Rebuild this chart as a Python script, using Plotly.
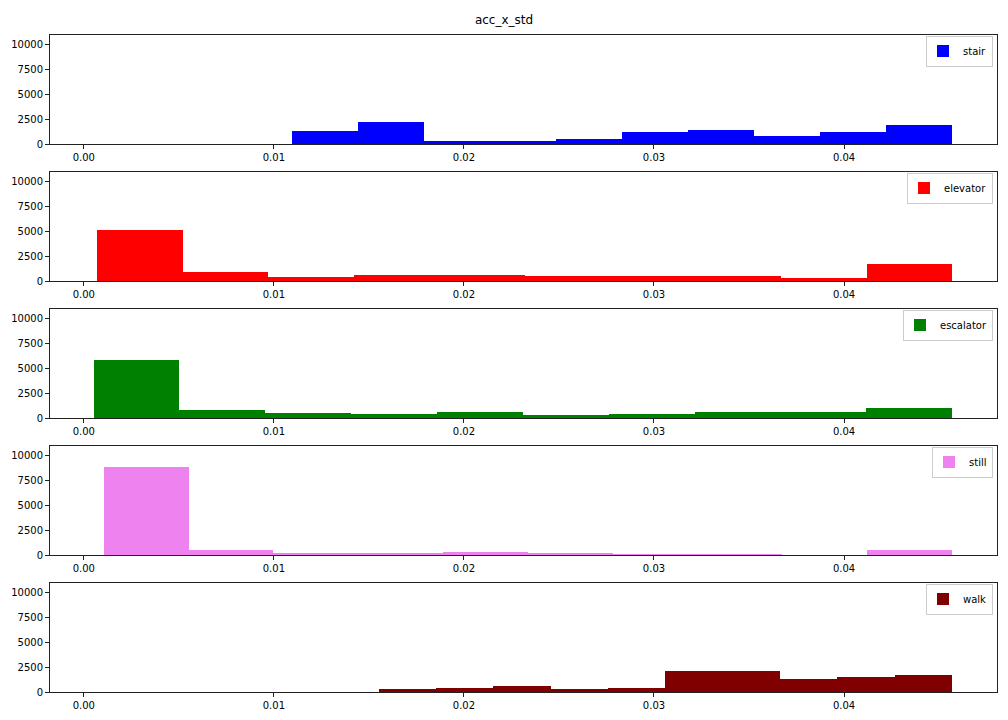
import plotly.graph_objects as go

title = "acc_x_std"
classes = ["stair", "elevator", "escalator", "still", "walk"]
colors = ["blue", "red", "green", "violet", "maroon"]

# histogram bin starts and widths (x units) per class
bin_start = [0.01094, 0.00070, 0.00051, 0.00105, 0.01552]
bin_width = [0.003475, 0.004499, 0.004518, 0.004464, 0.003017]

counts_stair = [1300, 2200, 300, 300, 500, 1200, 1400, 800, 1200, 1900]
counts_elevator = [5100, 900, 400, 600, 600, 500, 500, 500, 300, 1700]
counts_escalator = [5800, 800, 500, 400, 600, 300, 400, 600, 600, 1000]
counts_still = [8800, 500, 200, 200, 300, 200, 100, 100, 0, 500]
counts_walk = [300, 400, 600, 300, 400, 2100, 2100, 1300, 1500, 1700]
counts = [counts_stair, counts_elevator, counts_escalator, counts_still, counts_walk]

x_ticks = [0.00, 0.01, 0.02, 0.03, 0.04]
y_ticks = [0, 2500, 5000, 7500, 10000]
x_range = [-0.00178, 0.04805]
y_range = [0, 10900]

W, H = 1008, 720
# pixel positions of the panels (top, bottom)
panel_px = [(35, 144), (172, 281), (309, 418), (446, 555), (583, 692)]
left_px, right_px = 50, 997

fig = go.Figure()
layout = dict(
    width=W, height=H, autosize=False,
    margin=dict(l=0, r=0, t=0, b=0, pad=0, autoexpand=False),
    paper_bgcolor="white", plot_bgcolor="white",
    font=dict(family="DejaVu Sans", size=10, color="black"),
    bargap=0, barmode="overlay",
    title=dict(text=title, x=0.5, xanchor="center", y=1 - 20 / H, yanchor="middle",
               automargin=False,
               font=dict(size=12, family="DejaVu Sans", color="black")),
)

for i, (name, col, cnt) in enumerate(zip(classes, colors, counts)):
    n = i + 1
    xa = "x" if n == 1 else f"x{n}"
    ya = "y" if n == 1 else f"y{n}"
    lg = "legend" if n == 1 else f"legend{n}"
    centers = [bin_start[i] + bin_width[i] * (k + 0.5) for k in range(len(cnt))]
    fig.add_trace(go.Bar(
        x=centers, y=cnt, width=[bin_width[i]] * len(cnt),
        marker=dict(color=col, line=dict(width=0)),
        name=name, xaxis=xa, yaxis=ya, legend=lg, showlegend=True,
    ))
    top, bot = panel_px[i]
    axis_common = dict(showline=True, linecolor="#222", linewidth=1, mirror=True,
                       ticks="outside", ticklen=4, tickcolor="#222", showgrid=False,
                       zeroline=False, automargin=False,
                       tickfont=dict(size=10, color="black"))
    layout["xaxis" if n == 1 else f"xaxis{n}"] = dict(
        domain=[left_px / W, right_px / W], anchor=ya, range=x_range,
        tickvals=x_ticks, tickformat=".2f", **axis_common)
    layout["yaxis" if n == 1 else f"yaxis{n}"] = dict(
        domain=[1 - bot / H, 1 - top / H], anchor=xa, range=y_range,
        tickvals=y_ticks, tickformat="d", **axis_common)
    layout[lg] = dict(
        x=993 / W, xanchor="right", y=1 - (top + 0.5) / H, yanchor="top",
        bgcolor="rgba(255,255,255,0.8)", bordercolor="#cccccc", borderwidth=1,
        font=dict(size=10, color="black"), itemwidth=30, indentation=-4,
    )

fig.update_layout(**layout)
fig.write_html("out.html")
